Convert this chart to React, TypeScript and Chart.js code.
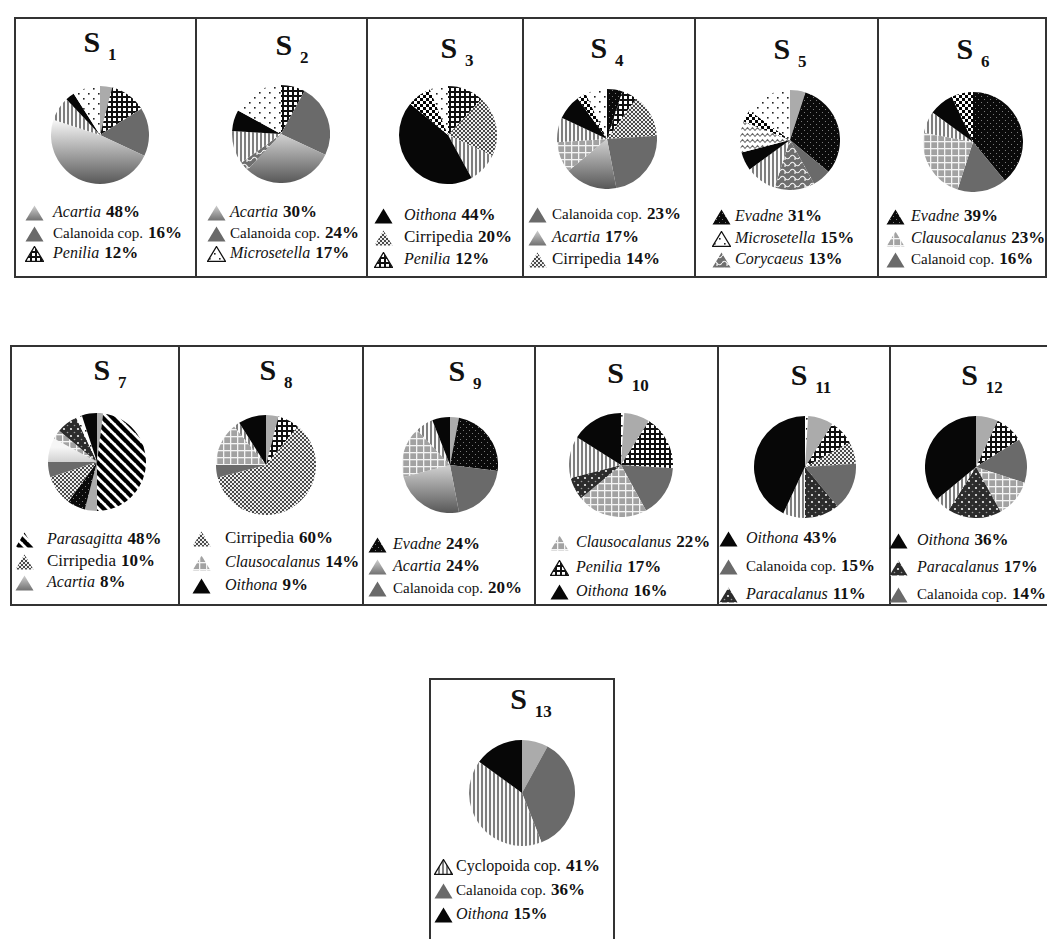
import React, { useEffect, useRef } from 'react';
import { Chart, registerables } from 'chart.js';

Chart.register(...registerables);

// ---------------- data (slices clockwise from 12 o'clock, %) ----------------
const S1_TAXA = ['others', 'penilia', 'calanoida', 'acartia', 'cyclopoida', 'oithona', 'microsetella'];
const S1_VALUES = [4, 12, 16, 48, 8, 3, 9];
const S1_LEGEND = ['acartia', 'calanoida', 'penilia'];
const S1_LEGEND_TEXT = ['Acartia', 'Calanoida cop.', 'Penilia'];

const S2_TAXA = ['penilia', 'calanoida', 'acartia', 'corycaeus', 'cyclopoida', 'oithona', 'microsetella'];
const S2_VALUES = [8, 24, 30, 3, 11, 7, 17];
const S2_LEGEND = ['acartia', 'calanoida', 'microsetella'];
const S2_LEGEND_TEXT = ['Acartia', 'Calanoida cop.', 'Microsetella'];

const S3_TAXA = ['penilia', 'cirripedia', 'cyclopoida', 'oithona', 'checker', 'microsetella'];
const S3_VALUES = [12, 20, 10, 44, 8, 6];
const S3_LEGEND = ['oithona', 'cirripedia', 'penilia'];
const S3_LEGEND_TEXT = ['Oithona', 'Cirripedia', 'Penilia'];

const S4_TAXA = ['evadne', 'penilia', 'cirripedia', 'calanoida', 'acartia', 'clausocalanus', 'cyclopoida', 'oithona', 'checker', 'microsetella'];
const S4_VALUES = [5, 5, 14, 23, 17, 10, 8, 8, 3, 7];
const S4_LEGEND = ['calanoida', 'acartia', 'cirripedia'];
const S4_LEGEND_TEXT = ['Calanoida cop.', 'Acartia', 'Cirripedia'];

const S5_TAXA = ['others', 'evadne', 'calanoida', 'corycaeus', 'cyclopoida', 'oithona', 'wave', 'checker', 'microsetella'];
const S5_VALUES = [5, 31, 6, 13, 10, 6, 10, 4, 15];
const S5_LEGEND = ['evadne', 'microsetella', 'corycaeus'];
const S5_LEGEND_TEXT = ['Evadne', 'Microsetella', 'Corycaeus'];

const S6_TAXA = ['evadne', 'calanoida', 'clausocalanus', 'cyclopoida', 'oithona', 'checker'];
const S6_VALUES = [39, 16, 23, 7, 8, 7];
const S6_LEGEND = ['evadne', 'clausocalanus', 'calanoida'];
const S6_LEGEND_TEXT = ['Evadne', 'Clausocalanus', 'Calanoid cop.'];

const S7_TAXA = ['others', 'parasagitta', 'others', 'evadne', 'cirripedia', 'calanoida', 'acartia', 'clausocalanus', 'paracalanus', 'microsetella', 'oithona'];
const S7_VALUES = [2, 48, 4, 6, 10, 5, 8, 3, 7, 2, 5];
const S7_LEGEND = ['parasagitta', 'cirripedia', 'acartia'];
const S7_LEGEND_TEXT = ['Parasagitta', 'Cirripedia', 'Acartia'];

const S8_TAXA = ['others', 'penilia', 'cirripedia', 'calanoida', 'clausocalanus', 'cyclopoida', 'oithona'];
const S8_VALUES = [4, 7, 60, 4, 14, 2, 9];
const S8_LEGEND = ['cirripedia', 'clausocalanus', 'oithona'];
const S8_LEGEND_TEXT = ['Cirripedia', 'Clausocalanus', 'Oithona'];

const S9_TAXA = ['others', 'evadne', 'calanoida', 'acartia', 'clausocalanus', 'cyclopoida', 'oithona'];
const S9_VALUES = [3, 24, 20, 24, 17, 6, 6];
const S9_LEGEND = ['evadne', 'acartia', 'calanoida'];
const S9_LEGEND_TEXT = ['Evadne', 'Acartia', 'Calanoida cop.'];

const S10_TAXA = ['microsetella', 'others', 'penilia', 'calanoida', 'clausocalanus', 'paracalanus', 'cyclopoida', 'oithona'];
const S10_VALUES = [1, 8, 17, 16, 22, 7, 13, 16];
const S10_LEGEND = ['clausocalanus', 'penilia', 'oithona'];
const S10_LEGEND_TEXT = ['Clausocalanus', 'Penilia', 'Oithona'];

const S11_TAXA = ['microsetella', 'others', 'penilia', 'cirripedia', 'calanoida', 'paracalanus', 'cyclopoida', 'oithona'];
const S11_VALUES = [1, 8, 8, 7, 15, 11, 7, 43];
const S11_LEGEND = ['oithona', 'calanoida', 'paracalanus'];
const S11_LEGEND_TEXT = ['Oithona', 'Calanoida cop.', 'Paracalanus'];

const S12_TAXA = ['others', 'penilia', 'calanoida', 'clausocalanus', 'paracalanus', 'cyclopoida', 'oithona'];
const S12_VALUES = [7, 9, 14, 12, 17, 5, 36];
const S12_LEGEND = ['oithona', 'paracalanus', 'calanoida'];
const S12_LEGEND_TEXT = ['Oithona', 'Paracalanus', 'Calanoida cop.'];

const S13_TAXA = ['others', 'calanoida', 'cyclopoida', 'oithona'];
const S13_VALUES = [8, 36, 41, 15];
const S13_LEGEND = ['cyclopoida', 'calanoida', 'oithona'];
const S13_LEGEND_TEXT = ['Cyclopoida cop.', 'Calanoida cop.', 'Oithona'];

const STATION_NUMBERS = ['1', '2', '3', '4', '5', '6', '7', '8', '9', '10', '11', '12', '13'];
const ITALIC_TAXA = ['Acartia', 'Penilia', 'Microsetella', 'Oithona', 'Evadne', 'Corycaeus', 'Clausocalanus', 'Parasagitta', 'Paracalanus'];

const STATIONS = [
  { taxa: S1_TAXA, values: S1_VALUES, legend: S1_LEGEND, legendText: S1_LEGEND_TEXT },
  { taxa: S2_TAXA, values: S2_VALUES, legend: S2_LEGEND, legendText: S2_LEGEND_TEXT },
  { taxa: S3_TAXA, values: S3_VALUES, legend: S3_LEGEND, legendText: S3_LEGEND_TEXT },
  { taxa: S4_TAXA, values: S4_VALUES, legend: S4_LEGEND, legendText: S4_LEGEND_TEXT },
  { taxa: S5_TAXA, values: S5_VALUES, legend: S5_LEGEND, legendText: S5_LEGEND_TEXT },
  { taxa: S6_TAXA, values: S6_VALUES, legend: S6_LEGEND, legendText: S6_LEGEND_TEXT },
  { taxa: S7_TAXA, values: S7_VALUES, legend: S7_LEGEND, legendText: S7_LEGEND_TEXT },
  { taxa: S8_TAXA, values: S8_VALUES, legend: S8_LEGEND, legendText: S8_LEGEND_TEXT },
  { taxa: S9_TAXA, values: S9_VALUES, legend: S9_LEGEND, legendText: S9_LEGEND_TEXT },
  { taxa: S10_TAXA, values: S10_VALUES, legend: S10_LEGEND, legendText: S10_LEGEND_TEXT },
  { taxa: S11_TAXA, values: S11_VALUES, legend: S11_LEGEND, legendText: S11_LEGEND_TEXT },
  { taxa: S12_TAXA, values: S12_VALUES, legend: S12_LEGEND, legendText: S12_LEGEND_TEXT },
  { taxa: S13_TAXA, values: S13_VALUES, legend: S13_LEGEND, legendText: S13_LEGEND_TEXT },
];

// ---------------- layout ----------------
const PIE_CX = [100, 281, 448, 607, 790, 973, 97, 266, 450, 621, 805, 976, 522];
const PIE_CY = [135, 134, 135, 139, 140, 142, 462, 465, 465, 465, 467, 467, 793];
const PIE_R = [49, 49, 49, 50, 50, 50, 49, 50, 48, 52, 51, 51, 53];
const TITLE_CX = [100, 292, 457, 607, 790, 973, 110, 276, 465, 628, 811, 982, 531];
const TITLE_BASE = [52, 55, 58, 58, 59, 59, 380, 380, 381, 383, 385, 385, 709];
const LEG_TRI_X = [25, 207, 374, 528, 712, 886, 15, 192, 368, 550, 719, 889, 434];
const LEG_TEXT_X = [53, 230, 404, 552, 735, 911, 47, 225, 393, 576, 746, 917, 456];
const LEG_BASE = [217, 217, 220, 219, 221, 221, 544, 543, 549, 547, 543, 545, 871];
const LEG_STEP = [20.5, 20.5, 22, 22.5, 21.5, 21.5, 21.5, 23.5, 22, 24.5, 28, 27, 24];
const ROW1_X = [14, 195, 366, 522, 694, 877, 1045];
const ROW2_X = [10, 178, 362, 534, 717, 889, 1052];

// ---------------- fills ----------------
const SOLID: Record<string, string> = {
  others: '#ababab',
  calanoida: '#6a6a6a',
  oithona: '#070707',
};
const cache: Record<string, CanvasPattern> = {};

function tile(w: number, h: number, draw: (g: CanvasRenderingContext2D) => void): CanvasPattern {
  const c = document.createElement('canvas');
  c.width = w;
  c.height = h;
  const g = c.getContext('2d')!;
  draw(g);
  return g.createPattern(c, 'repeat')!;
}

function pattern(key: string): CanvasPattern | string {
  if (SOLID[key]) return SOLID[key];
  if (cache[key]) return cache[key];
  let p: CanvasPattern;
  switch (key) {
    case 'penilia':
      p = tile(5, 5, (g) => {
        g.fillStyle = '#fff'; g.fillRect(0, 0, 5, 5);
        g.fillStyle = '#111'; g.fillRect(0, 0, 5, 2); g.fillRect(0, 0, 2, 5);
      });
      break;
    case 'microsetella':
      p = tile(10, 10, (g) => {
        g.fillStyle = '#fff'; g.fillRect(0, 0, 10, 10);
        g.fillStyle = '#222'; g.fillRect(2, 2, 1.6, 1.6); g.fillRect(7, 7, 1.6, 1.6);
      });
      break;
    case 'cirripedia':
      p = tile(4, 4, (g) => {
        g.fillStyle = '#eeeeee'; g.fillRect(0, 0, 4, 4);
        g.fillStyle = '#4a4a4a'; g.fillRect(0, 0, 2, 2); g.fillRect(2, 2, 2, 2);
      });
      break;
    case 'evadne':
      p = tile(6, 6, (g) => {
        g.fillStyle = '#0a0a0a'; g.fillRect(0, 0, 6, 6);
        g.fillStyle = '#7a7a7a'; g.fillRect(1, 1, 1, 1); g.fillRect(4, 4, 1, 1);
      });
      break;
    case 'clausocalanus':
      p = tile(7, 7, (g) => {
        g.fillStyle = '#a2a2a2'; g.fillRect(0, 0, 7, 7);
        g.fillStyle = '#f4f4f4'; g.fillRect(0, 0, 7, 1.3); g.fillRect(0, 0, 1.3, 7);
      });
      break;
    case 'corycaeus':
      p = tile(10, 7, (g) => {
        g.fillStyle = '#6e6e6e'; g.fillRect(0, 0, 10, 7);
        g.strokeStyle = '#f0f0f0'; g.lineWidth = 1.2;
        g.beginPath();
        g.moveTo(0, 4); g.quadraticCurveTo(2.5, 0.5, 5, 4); g.quadraticCurveTo(7.5, 7.5, 10, 4);
        g.moveTo(5, 4); g.lineTo(5, 7);
        g.stroke();
      });
      break;
    case 'parasagitta':
      p = tile(10, 10, (g) => {
        g.fillStyle = '#fff'; g.fillRect(0, 0, 10, 10);
        g.strokeStyle = '#000'; g.lineWidth = 4.4;
        g.beginPath();
        for (const k of [-10, 0, 10]) { g.moveTo(k - 1, -1); g.lineTo(k + 11, 11); }
        g.stroke();
      });
      break;
    case 'paracalanus':
      p = tile(7, 7, (g) => {
        g.fillStyle = '#2c2c2c'; g.fillRect(0, 0, 7, 7);
        g.fillStyle = '#f2f2f2'; g.beginPath(); g.arc(2, 2, 1.1, 0, Math.PI * 2); g.fill();
        g.fillStyle = '#9a9a9a'; g.beginPath(); g.arc(5.5, 5.5, 0.8, 0, Math.PI * 2); g.fill();
      });
      break;
    case 'cyclopoida':
      p = tile(4, 4, (g) => {
        g.fillStyle = '#fafafa'; g.fillRect(0, 0, 4, 4);
        g.fillStyle = '#7e7e7e'; g.fillRect(0, 0, 2, 4);
      });
      break;
    case 'checker':
      p = tile(6, 6, (g) => {
        g.fillStyle = '#050505'; g.fillRect(0, 0, 6, 6);
        g.fillStyle = '#fff'; g.fillRect(0, 0, 3, 3); g.fillRect(3, 3, 3, 3);
      });
      break;
    case 'wave':
      p = tile(10, 6, (g) => {
        g.fillStyle = '#fff'; g.fillRect(0, 0, 10, 6);
        g.strokeStyle = '#6a6a6a'; g.lineWidth = 1.1;
        g.beginPath(); g.moveTo(0, 4.5); g.lineTo(2.5, 1.5); g.lineTo(5, 4.5); g.lineTo(7.5, 1.5); g.lineTo(10, 4.5);
        g.stroke();
      });
      break;
    default:
      return '#999';
  }
  cache[key] = p;
  return p;
}

function acartiaGradient(g: CanvasRenderingContext2D, y0: number, y1: number, c0: string, c1: string) {
  const gr = g.createLinearGradient(0, y0, 0, y1);
  gr.addColorStop(0, c0);
  gr.addColorStop(1, c1);
  return gr;
}

// ---------------- components ----------------
function Pie({ taxa, values, cx, cy, r }: { taxa: string[]; values: number[]; cx: number; cy: number; r: number }) {
  const ref = useRef<HTMLCanvasElement>(null);
  useEffect(() => {
    const chart = new Chart(ref.current!, {
      type: 'pie',
      data: {
        labels: taxa,
        datasets: [
          {
            data: values,
            borderWidth: 0,
            backgroundColor: (c: any) => {
              const key = taxa[c.dataIndex];
              if (key === undefined) return '#999';
              if (key === 'acartia') {
                const area = c.chart.chartArea;
                if (!area) return '#aaa';
                const mid = (area.top + area.bottom) / 2;
                const rad = (area.bottom - area.top) / 2;
                return acartiaGradient(c.chart.ctx, mid - rad * 0.3, area.bottom, '#f6f6f6', '#585858');
              }
              return pattern(key);
            },
          },
        ],
      },
      options: {
        responsive: true,
        maintainAspectRatio: false,
        animation: false,
        events: [],
        layout: { padding: 0 },
        plugins: { legend: { display: false }, tooltip: { enabled: false } },
      },
    });
    return () => chart.destroy();
  }, []);
  return (
    <div style={{ position: 'absolute', left: cx - r, top: cy - r, width: 2 * r, height: 2 * r }}>
      <canvas ref={ref} />
    </div>
  );
}

const TRI_W = 19;
const TRI_H = 16;

function Marker({ k, x, y }: { k: string; x: number; y: number }) {
  const ref = useRef<HTMLCanvasElement>(null);
  useEffect(() => {
    const cv = ref.current!;
    const g = cv.getContext('2d')!;
    g.clearRect(0, 0, TRI_W, TRI_H);
    g.beginPath();
    g.moveTo(TRI_W / 2, 0.5);
    g.lineTo(TRI_W - 0.5, TRI_H - 0.5);
    g.lineTo(0.5, TRI_H - 0.5);
    g.closePath();
    g.fillStyle = k === 'acartia' ? acartiaGradient(g, 0, TRI_H, '#d2d2d2', '#6e6e6e') : (pattern(k) as any);
    g.fill();
    if (k === 'microsetella' || k === 'cyclopoida' || k === 'penilia') {
      g.strokeStyle = '#111';
      g.lineWidth = 1.3;
      g.stroke();
    }
  }, []);
  return (
    <canvas
      ref={ref}
      width={TRI_W}
      height={TRI_H}
      style={{ position: 'absolute', left: x, top: y, width: TRI_W, height: TRI_H }}
    />
  );
}

function nameSize(t: string) {
  if (t.indexOf('cop.') >= 0) return t.indexOf('Cyclo') === 0 ? 16 : 15;
  if (ITALIC_TAXA.indexOf(t) >= 0) return 16;
  return 17;
}

const FONT = "'Liberation Serif', 'DejaVu Serif', serif";

export default function App() {
  const boxes: React.ReactNode[] = [];
  for (let i = 0; i < 6; i++) {
    boxes.push(
      <rect key={'a' + i} x={ROW1_X[i] + 1} y={18} width={ROW1_X[i + 1] - ROW1_X[i]} height={259} fill="none" stroke="#333" strokeWidth={2} />
    );
    boxes.push(
      <rect key={'b' + i} x={ROW2_X[i] + 1} y={346} width={ROW2_X[i + 1] - ROW2_X[i]} height={259} fill="none" stroke="#333" strokeWidth={2} />
    );
  }
  boxes.push(<rect key="c" x={430} y={679} width={184} height={280} fill="none" stroke="#333" strokeWidth={2} />);

  return (
    <div style={{ position: 'absolute', left: 0, top: 0, width: 1047, height: 939, overflow: 'hidden', background: '#fff' }}>
      <svg width={1047} height={939} style={{ position: 'absolute', left: 0, top: 0 }}>
        {boxes}
        {STATIONS.map((s, i) => (
          <text key={'t' + i} x={TITLE_CX[i]} y={TITLE_BASE[i]} textAnchor="middle" fontFamily={FONT} fontWeight="bold" fontSize={30} fill="#111">
            S
            <tspan dx={8} dy={8} fontSize={17}>{STATION_NUMBERS[i]}</tspan>
          </text>
        ))}
        {STATIONS.map((s, i) =>
          s.legend.map((k, j) => {
            const label = s.legendText[j];
            const pct = s.values[s.taxa.indexOf(k)];
            const italic = ITALIC_TAXA.indexOf(label) >= 0;
            return (
              <text key={'l' + i + '_' + j} x={LEG_TEXT_X[i]} y={LEG_BASE[i] + j * LEG_STEP[i]} fontFamily={FONT} fill="#111">
                <tspan fontStyle={italic ? 'italic' : 'normal'} fontSize={nameSize(label)}>{label}</tspan>
                <tspan dx={5} fontWeight="bold" fontSize={17}>{pct + '%'}</tspan>
              </text>
            );
          })
        )}
      </svg>
      {STATIONS.map((s, i) => (
        <Pie key={'p' + i} taxa={s.taxa} values={s.values} cx={PIE_CX[i]} cy={PIE_CY[i]} r={PIE_R[i]} />
      ))}
      {STATIONS.map((s, i) =>
        s.legend.map((k, j) => (
          <Marker key={'m' + i + '_' + j} k={k} x={LEG_TRI_X[i]} y={LEG_BASE[i] + j * LEG_STEP[i] - 12} />
        ))
      )}
    </div>
  );
}
